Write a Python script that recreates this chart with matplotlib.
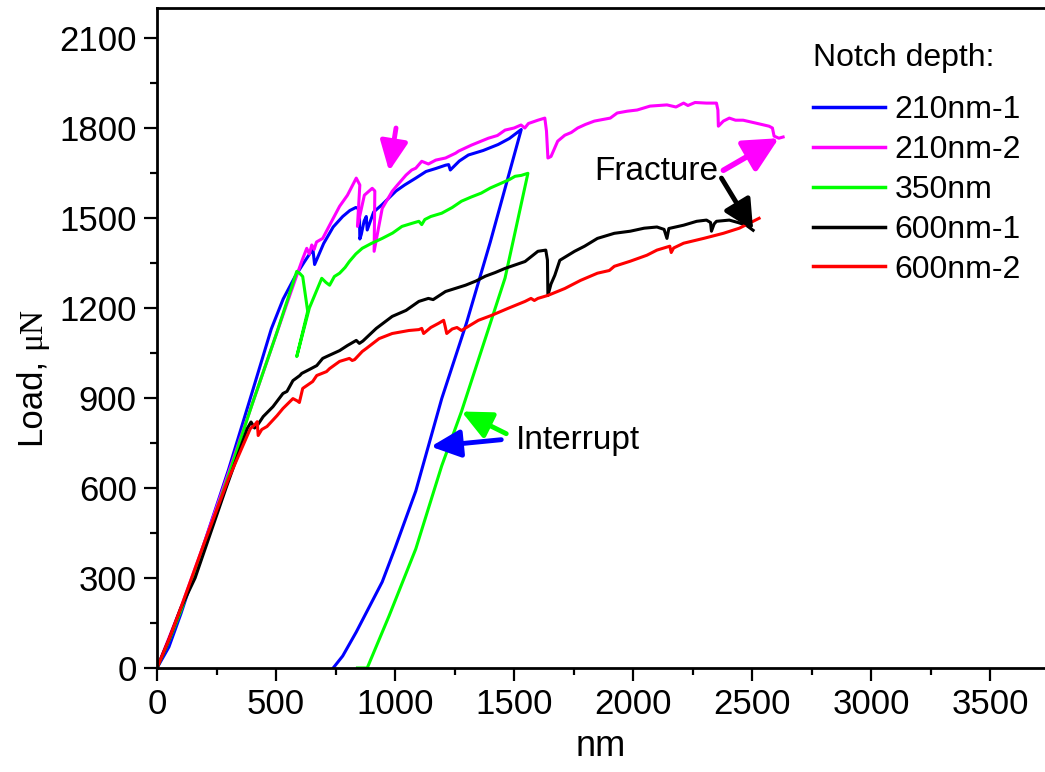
import matplotlib
matplotlib.use('Agg')
import matplotlib.pyplot as plt
from matplotlib.ticker import MultipleLocator

plt.rcParams['font.family'] = ['Liberation Sans', 'DejaVu Sans']

# data: displacement (nm) and load (uN)

blue_x = [0, 50, 100, 200, 300, 400, 480, 530, 580, 620, 645, 655, 662, 700, 740, 780, 810,
          835, 850, 852, 858, 870, 879, 883, 910, 946, 1004, 1040, 1087, 1130, 1171, 1212,
          1225, 1232, 1270, 1308, 1370, 1433, 1480, 1530,
          1400, 1300, 1196, 1087, 1000, 946, 837, 780, 740]
blue_y = [0, 70, 180, 420, 660, 920, 1130, 1230, 1305, 1355, 1385, 1395, 1345, 1415, 1470,
          1505, 1525, 1535, 1530, 1430, 1445, 1490, 1505, 1460, 1520, 1545, 1590, 1610, 1633,
          1655, 1665, 1676, 1678, 1660, 1690, 1710, 1725, 1745, 1765, 1795,
          1420, 1150, 898, 590, 400, 287, 120, 40, 0]

magenta_x = [0, 50, 100, 200, 300, 400, 500, 587, 610, 629, 640, 650, 660, 670, 696, 725,
             767, 800, 837, 852, 842, 871, 904, 915, 912, 946, 988, 1010, 1046, 1070, 1087,
             1112, 1140, 1171, 1212, 1254, 1267, 1321, 1392, 1430, 1462, 1500, 1529, 1545,
             1560, 1600, 1629, 1636, 1642, 1655, 1683, 1713, 1740, 1767, 1800, 1837, 1870,
             1904, 1933, 1975, 2017, 2071, 2142, 2180, 2212, 2230, 2260, 2308, 2350, 2356,
             2358, 2379, 2404, 2430, 2462, 2517, 2571, 2585, 2592, 2612, 2630]
magenta_y = [0, 100, 200, 420, 650, 880, 1110, 1309, 1360, 1399, 1380, 1410, 1395, 1420,
             1432, 1476, 1539, 1576, 1633, 1610, 1472, 1576, 1599, 1590, 1389, 1532, 1589,
             1610, 1643, 1660, 1666, 1689, 1680, 1693, 1700, 1716, 1723, 1743, 1766, 1775,
             1793, 1800, 1810, 1800, 1815, 1826, 1833, 1790, 1700, 1705, 1756, 1776, 1785,
             1800, 1812, 1823, 1828, 1833, 1850, 1856, 1860, 1873, 1877, 1870, 1883, 1875,
             1885, 1883, 1883, 1860, 1806, 1823, 1833, 1826, 1826, 1816, 1806, 1800, 1773,
             1766, 1770]

green_x = [0, 50, 100, 200, 300, 400, 500, 587, 600, 612, 633, 587, 640, 692, 710, 725, 745,
           767, 790, 808, 835, 862, 900, 946, 990, 1029, 1070, 1100, 1112, 1125, 1150, 1196,
           1240, 1279, 1320, 1362, 1400, 1446, 1480, 1504, 1530, 1558,
           1505, 1462, 1400, 1279, 1196, 1087, 975, 883, 842]
green_y = [0, 90, 190, 410, 640, 880, 1110, 1322, 1315, 1305, 1189, 1038, 1200, 1299, 1285,
           1276, 1305, 1316, 1335, 1355, 1380, 1399, 1415, 1432, 1450, 1472, 1482, 1489,
           1478, 1495, 1505, 1516, 1535, 1556, 1570, 1583, 1600, 1616, 1628, 1639, 1642, 1649,
           1456, 1300, 1149, 855, 674, 397, 174, 0, 0]

black_x = [0, 50, 100, 160, 290, 379, 395, 410, 421, 446, 487, 529, 546, 571, 600, 608, 640,
           671, 696, 712, 767, 800, 837, 850, 865, 921, 988, 1046, 1100, 1140, 1160, 1212,
           1296, 1340, 1379, 1420, 1462, 1546, 1600, 1633, 1640, 1642, 1655, 1671, 1692,
           1754, 1796, 1850, 1921, 1988, 2046, 2100, 2130, 2142, 2150, 2212, 2267, 2308,
           2325, 2329, 2340, 2350, 2404, 2440, 2475, 2504]
black_y = [0, 95, 200, 300, 600, 798, 820, 800, 808, 838, 871, 915, 922, 958, 975, 982, 995,
           1008, 1032, 1038, 1058, 1075, 1092, 1082, 1090, 1132, 1172, 1192, 1222, 1232, 1228,
           1255, 1276, 1290, 1306, 1318, 1332, 1355, 1389, 1393, 1360, 1242, 1280, 1309, 1359,
           1389, 1406, 1432, 1449, 1456, 1466, 1470, 1462, 1432, 1465, 1476, 1489, 1493, 1485,
           1456, 1480, 1489, 1493, 1485, 1476, 1459]

red_x = [0, 50, 100, 200, 300, 392, 410, 421, 425, 440, 462, 504, 529, 571, 590, 598, 612,
         654, 671, 712, 725, 767, 808, 820, 830, 862, 879, 933, 988, 1058, 1100, 1112, 1120,
         1150, 1183, 1204, 1210, 1217, 1240, 1260, 1279, 1300, 1350, 1404, 1475, 1546, 1571,
         1585, 1600, 1642, 1713, 1779, 1850, 1900, 1921, 1988, 2058, 2100, 2154, 2160, 2170,
         2212, 2296, 2379, 2446, 2529]
red_y = [0, 95, 200, 420, 630, 798, 810, 821, 775, 795, 805, 841, 865, 898, 890, 885, 932,
         955, 975, 988, 998, 1022, 1032, 1025, 1028, 1055, 1065, 1098, 1115, 1125, 1128, 1132,
         1115, 1135, 1149, 1159, 1140, 1115, 1130, 1135, 1125, 1135, 1159, 1175, 1199, 1222,
         1232, 1225, 1232, 1242, 1265, 1292, 1316, 1325, 1339, 1356, 1376, 1393, 1406, 1385,
         1400, 1416, 1432, 1449, 1466, 1499]

labels = ['210nm-1', '210nm-2', '350nm', '600nm-1', '600nm-2']
colors = ['#0000ff', '#ff00ff', '#00ff00', '#000000', '#ff0000']

fig = plt.figure(figsize=(10.45, 7.72), dpi=100)
ax = fig.add_axes([157/1045, 104/772, 1 - 157/1045, (764 - 104)/772])

series = [(blue_x, blue_y), (magenta_x, magenta_y), (green_x, green_y),
          (black_x, black_y), (red_x, red_y)]
for (xs, ys), lab, col in zip(series, labels, colors):
    ax.plot(xs, ys, color=col, lw=2.2, label=lab)

ax.set_xlim(0, 3730)
ax.set_ylim(0, 2200)
ax.xaxis.set_major_locator(MultipleLocator(500))
ax.xaxis.set_minor_locator(MultipleLocator(250))
ax.yaxis.set_major_locator(MultipleLocator(300))
ax.yaxis.set_minor_locator(MultipleLocator(150))
ax.tick_params(which='major', direction='out', length=9.5, width=1.6, labelsize=25, pad=5)
ax.tick_params(which='minor', direction='out', length=5, width=1.6)
for s in ['left', 'bottom', 'top']:
    ax.spines[s].set_linewidth(2)
ax.spines['right'].set_visible(False)

ax.set_xlabel('nm', fontsize=26, labelpad=6)

# y label: "Load," in sans, "μN" in serif, stacked along the rotated baseline
base_x = 40 / 1045
load_txt = fig.text(base_x, 1 - 445/772, 'Load,', fontsize=25, rotation=90,
                    rotation_mode='anchor', ha='left', va='baseline')
fig.canvas.draw()
bb = load_txt.get_window_extent()
top_px = bb.y1 + 9
fig.text(base_x, top_px / fig.bbox.height, 'μN', fontsize=24, rotation=90,
         rotation_mode='anchor', ha='left', va='baseline', family='Liberation Serif')

# legend, with its heading as separate text
leg = ax.legend(loc='upper left', frameon=False, fontsize=23,
                handlelength=2.25, handletextpad=0.3,
                labelspacing=0.31, borderpad=0, borderaxespad=0,
                bbox_to_anchor=(813/1045, 1 - 95/772), bbox_transform=fig.transFigure)
for h in leg.get_lines():
    h.set_linewidth(2.5)
fig.text(813/1045, 1 - 58/772, 'Notch depth:', fontsize=23, ha='left', va='center')

# annotations
def arrow(tail, tip, col, lw=3.5, hl=0.6, hw=0.3):
    ax.annotate('', xy=tip, xytext=tail,
                arrowprops=dict(arrowstyle='-|>,head_length=%s,head_width=%s' % (hl, hw),
                                color=col, lw=lw, mutation_scale=30,
                                shrinkA=0, shrinkB=0))

arrow((1004, 1800), (975, 1656), '#ff00ff', lw=3.5, hl=0.6, hw=0.28)
ax.text(2096, 1656, 'Fracture', fontsize=24, ha='center', va='center')
arrow((2379, 1659), (2612, 1766), '#ff00ff', lw=4, hl=0.7, hw=0.35)
arrow((2371, 1633), (2504, 1459), '#000000', lw=3.5, hl=0.6, hw=0.3)
ax.text(1508, 760, 'Interrupt', fontsize=24, ha='left', va='center')
arrow((1467, 781), (1279, 855), '#00ff00', lw=3.5, hl=0.6, hw=0.28)
arrow((1446, 761), (1150, 738), '#0000ff', lw=3.5, hl=0.6, hw=0.28)

fig.savefig('out.png', dpi=100)
